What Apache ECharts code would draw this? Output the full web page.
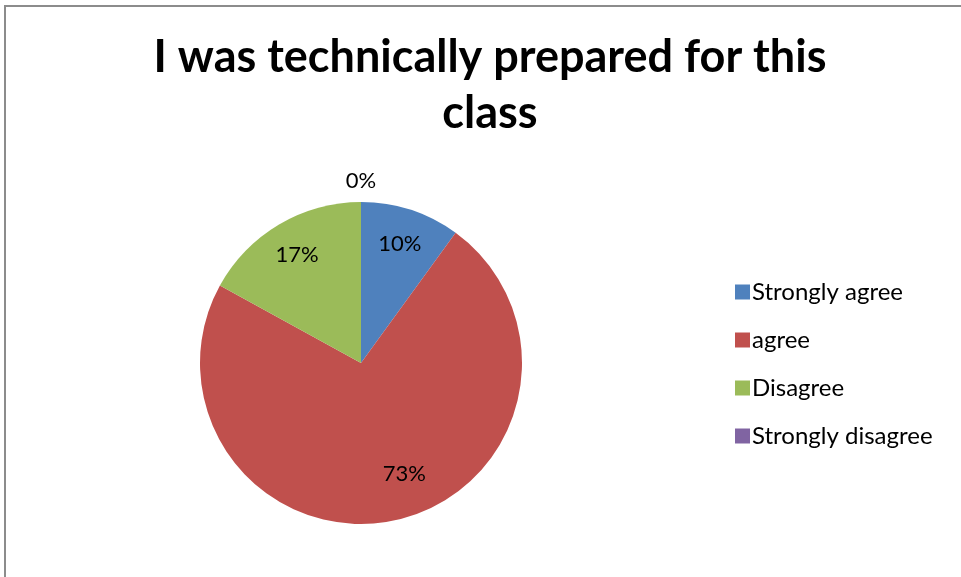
<!DOCTYPE html>
<html>
<head>
<meta charset="utf-8">
<script src="https://cdn.jsdelivr.net/npm/echarts@6/dist/echarts.min.js"></script>
<style>
  html, body { margin: 0; padding: 0; background: #fff; }
  #chart { position: absolute; left: 0; top: 0; width: 961px; height: 577px; }
  #frame {
    position: absolute; left: 4px; top: 5px; width: 957px; height: 572px;
    border-left: 2px solid #8c8c8c; border-top: 2px solid #8c8c8c;
    pointer-events: none;
  }
</style>
</head>
<body>
<div id="chart"></div>
<div id="frame"></div>
<script>
// chart data
const categories = ['Strongly agree', 'agree', 'Disagree', 'Strongly disagree'];
const percents = [10, 73, 17, 0];
const colors = ['#4F81BD', '#C0504D', '#9BBB59', '#8064A2'];

const chartDom = document.getElementById('chart');
const myChart = echarts.init(chartDom);

const fontFam = 'Lato, "Open Sans", sans-serif';
const center = [361, 363];

const pieData = categories.map((name, i) => ({
  name: name,
  value: percents[i],
  itemStyle: { color: colors[i] }
}));

// label-only rings (transparent) so the numbers sit where Excel put them
const innerLabels = categories.map((name, i) => ({
  name: name,
  value: percents[i],
  // excel's "best fit" nudged the big slice's label a bit to the right
  label: { show: percents[i] > 0, offset: name === 'agree' ? [16, -12] : [0, 0] }
}));
const outerLabels = categories.map((name, i) => ({
  name: name,
  value: percents[i],
  label: { show: percents[i] === 0 }
}));

const labelStyle = {
  position: 'inside',
  formatter: '{c}%',
  color: '#000',
  fontFamily: fontFam,
  fontSize: 22
};

const option = {
  animation: false,
  title: {
    text: 'I was technically prepared for this\nclass',
    left: 485,
    top: 24,
    textAlign: 'center',
    textStyle: {
      fontFamily: fontFam,
      fontWeight: 'bold',
      fontSize: 45,
      lineHeight: 56,
      color: '#000'
    }
  },
  legend: {
    orient: 'vertical',
    left: 730,
    top: 275,
    itemWidth: 15,
    itemHeight: 15,
    itemGap: 24,
    icon: 'rect',
    selectedMode: false,
    data: categories,
    textStyle: {
      fontFamily: fontFam,
      fontSize: 24,
      lineHeight: 15,
      color: '#000',
      padding: [0, 0, 0, -3]
    }
  },
  series: [
    {
      type: 'pie',
      center: center,
      radius: [0, 161],
      startAngle: 90,
      clockwise: true,
      silent: true,
      label: { show: false },
      labelLine: { show: false },
      itemStyle: { borderWidth: 0 },
      data: pieData
    },
    {
      type: 'pie',
      center: center,
      radius: [84, 161],
      startAngle: 90,
      silent: true,
      itemStyle: { color: 'transparent', borderWidth: 0 },
      label: labelStyle,
      labelLine: { show: false },
      data: innerLabels
    },
    {
      type: 'pie',
      center: center,
      radius: [161, 197],
      startAngle: 90,
      silent: true,
      itemStyle: { color: 'transparent', borderWidth: 0 },
      label: labelStyle,
      labelLine: { show: false },
      data: outerLabels
    }
  ]
};

option && myChart.setOption(option);
</script>
</body>
</html>
